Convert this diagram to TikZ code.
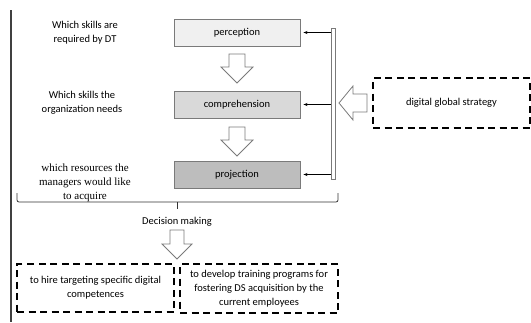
\documentclass[tikz,border=0pt]{standalone}
\usepackage{fontspec}
\setmainfont{Carlito}
\newfontfamily\serifface{Liberation Serif}
\usetikzlibrary{arrows.meta}
\definecolor{edgegray}{HTML}{7A7A7A}
\tikzset{
  x=1pt, y=-1pt,
  stage/.style={draw=edgegray, line width=0.9pt, minimum width=126pt, minimum height=27pt,
    inner sep=0pt, font=\fontsize{10.5}{13}\selectfont},
  question/.style={align=center, font=\fontsize{10.5}{14}\selectfont, inner sep=0pt},
  dashbox/.style={draw=black, line width=1.4pt, dash pattern=on 7pt off 4.5pt, inner sep=0pt,
    align=center, font=\fontsize{10.5}{14}\selectfont},
  hollow/.style={draw=edgegray, line width=0.8pt, fill=white, line join=miter},
  feed/.style={draw=black, line width=0.6pt, -{Stealth[length=4pt,width=3pt]}},
}
\begin{document}
\begin{tikzpicture}
\useasboundingbox (0,0) rectangle (531,322);

% page rule on the left
\draw[line width=1.3pt, black!75] (11,10) -- (11,322);

% three SA stages
\node[stage, fill=black!6]  (perc) at (237,32.5) {perception};
\node[stage, fill=black!15] (comp) at (237,104.5) {comprehension};
\node[stage, fill=black!26] (proj) at (237,174.5) {projection};

% questions beside each stage
\node[question] (q1) at (85,33) {Which skills are\\required by DT};
\node[question] (q2) at (82,103) {Which skills the\\organization needs};
\node[question, font=\serifface\fontsize{11}{14}\selectfont] (q3) at (85,183)
  {which resources the\\managers would like\\to acquire};

% hollow down arrows between stages
\foreach \yy in {54,127}{
  \draw[hollow] (229,\yy) -- (245,\yy) -- (245,\yy+13) -- (253,\yy+13)
    -- (237,\yy+29) -- (221,\yy+13) -- (229,\yy+13) -- cycle;
}

% double bar feeding every stage
\draw[edgegray, line width=0.8pt, fill=white] (331,28) rectangle (335,179);
\coordinate (f1) at (331,32.5);
\coordinate (f2) at (331,104.5);
\coordinate (f3) at (331,174.5);
\draw[feed] (f1) -- ([xshift=3pt]perc.east |- f1);
\draw[feed] (f2) -- ([xshift=3pt]comp.east |- f2);
\draw[feed] (f3) -- ([xshift=3pt]proj.east |- f3);

% strategy box and its hollow arrow towards the bar
\node[dashbox, minimum width=157pt, minimum height=50pt] (dgs) at (451.5,103) {digital global strategy};
\draw[hollow] (367,94) -- (353,94) -- (353,86) -- (339,103) -- (353,120)
  -- (353,112) -- (367,112) -- cycle;

% bracket gathering the three questions
\coordinate (bl) at (17,193);
\coordinate (br) at (338,193);
\coordinate (bm) at (177,209);
\draw[black!80, line width=0.8pt, rounded corners=2pt]
  (bl) -- (17,202) -- (338,202) -- (br);
\draw[black!80, line width=0.8pt] (177,202) -- (bm);

\node[question] (dm) at (177,222) {Decision making};

% hollow arrow towards the two options
\draw[hollow] (170,230) -- (184,230) -- (184,244) -- (192,244) -- (177,259)
  -- (162,244) -- (170,244) -- cycle;

% two decision options
\node[dashbox, minimum width=157pt, minimum height=48pt] (hire) at (95.5,288)
  {to hire targeting specific digital\\competences};
\node[dashbox, minimum width=158pt, minimum height=49pt] (train) at (259,288.5)
  {to develop training programs for\\fostering DS acquisition by the\\current employees};
\end{tikzpicture}
\end{document}
